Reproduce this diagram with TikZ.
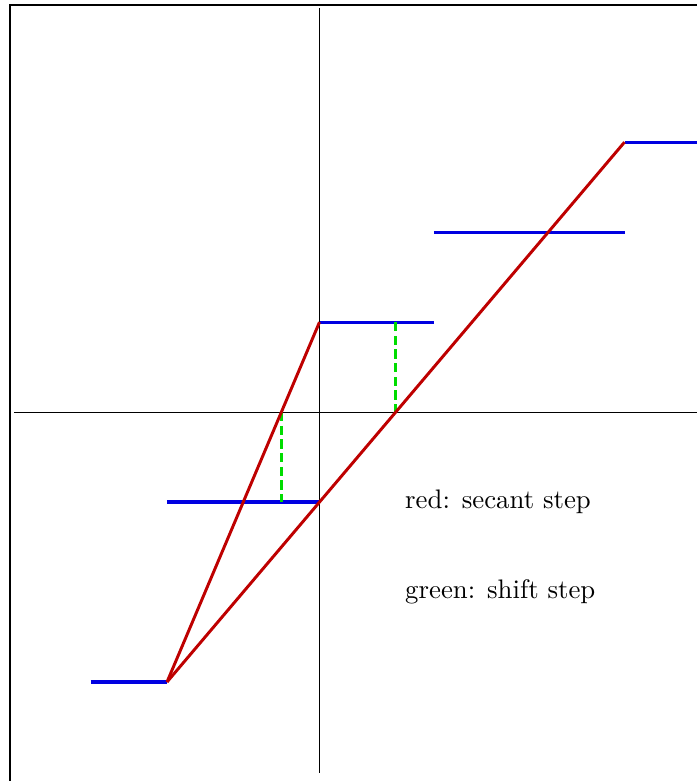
\documentclass[tikz,border=0pt]{standalone}
\usepackage{xcolor}
\usepackage{tikz}
\usetikzlibrary{positioning, calc}

\definecolor{secantred}{RGB}{190,0,0}
\definecolor{stepblue}{RGB}{0,0,225}
\definecolor{shiftgreen}{RGB}{0,220,0}

\begin{document}
\begin{tikzpicture}[x=1cm, y=1.18cm,
    frame/.style={line width=0.8pt},
    axis/.style={line width=0.4pt},
    stair/.style={line width=1.2pt, stepblue},
    secant/.style={line width=1.1pt, secantred},
    shiftline/.style={line width=1.1pt, shiftgreen, dash pattern=on 3.4pt off 1.7pt},
    legend/.style={anchor=west}]
    \useasboundingbox (-4.19,-4.1) rectangle (4.95,4.58);

    % Frame
    \draw[frame] (-4.06,-4.1) -- (-4.06,4.52) -- (4.95,4.52);

    % Axes
    \draw[axis] (-4,0) -- (4.95,0);
    \draw[axis] (0,-4.01) -- (0,4.49);

    % Step corners
    \coordinate (A0) at (-3,-3);
    \coordinate (A1) at (-2,-3);
    \coordinate (B0) at (-2,-1);
    \coordinate (B1) at (0,-1);
    \coordinate (C0) at (0,1);
    \coordinate (C1) at (1.5,1);
    \coordinate (D0) at (1.5,2);
    \coordinate (D1) at (4,2);
    \coordinate (E0) at (4,3);
    \coordinate (E1) at (4.95,3);

    % Steps
    \draw[stair] (A0) -- (A1);
    \draw[stair] (B0) -- (B1);
    \draw[stair] (C0) -- (C1);
    \draw[stair] (D0) -- (D1);
    \draw[stair] (E0) -- (E1);

    % Shift steps
    \coordinate (S0) at (-0.5,0);
    \coordinate (S1) at (-0.5,-1);
    \coordinate (T0) at (1,1);
    \coordinate (T1) at (1,0);
    \draw[shiftline] (S0) -- (S1);
    \draw[shiftline] (T0) -- (T1);

    % Secant steps
    \draw[secant] (A1) -- (C0);
    \draw[secant] (A1) -- (E0);

    % Legend
    \node[legend] (redtext) at (1,-1) {red: secant step};
    \node[legend] (greentext) at (1,-2) {green: shift step};
\end{tikzpicture}
\end{document}
